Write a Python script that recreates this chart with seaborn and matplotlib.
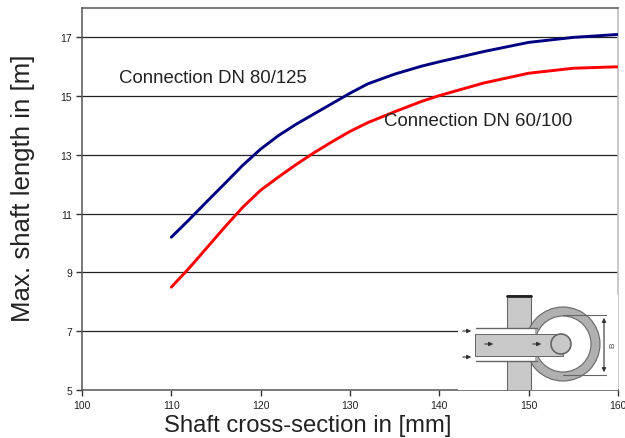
import matplotlib
matplotlib.use("Agg")
import matplotlib.pyplot as plt
import matplotlib.patches as mp
import pandas as pd
import seaborn as sns

sns.set_style("white")
plt.rcParams['font.family'] = ['Liberation Sans', 'DejaVu Sans']

x_blue = [110, 112, 114, 116, 118, 120, 122, 124, 126, 128, 130, 132, 135, 138, 140, 145, 150, 155, 160]
y_blue = [10.2, 10.8, 11.42, 12.03, 12.65, 13.2, 13.66, 14.05, 14.4, 14.75, 15.1, 15.42, 15.75, 16.02, 16.17, 16.52, 16.83, 17.0, 17.1]
x_red = [110, 112, 114, 116, 118, 120, 122, 124, 126, 128, 130, 132, 135, 138, 140, 145, 150, 155, 160]
y_red = [8.5, 9.15, 9.85, 10.55, 11.22, 11.8, 12.25, 12.68, 13.08, 13.45, 13.8, 14.1, 14.47, 14.82, 15.02, 15.45, 15.78, 15.95, 16.0]
xticks = [100, 110, 120, 130, 140, 150, 160]
yticks = [5, 7, 9, 11, 13, 15, 17]
label_blue = "Connection DN 80/125"
label_red = "Connection DN 60/100"

W, H = 625, 439
fig = plt.figure(figsize=(W/100, H/100), dpi=100)
L, R, T, B = 82, 618, 9, 391
ax = fig.add_axes([L/W, 1-B/H, (R-L)/W, (B-T)/H])

sns.lineplot(data=pd.DataFrame({"x": x_blue, "y": y_blue}), x="x", y="y", ax=ax,
             color="#000080", lw=2.1, zorder=3)
sns.lineplot(data=pd.DataFrame({"x": x_red, "y": y_red}), x="x", y="y", ax=ax,
             color="#ff0000", lw=2.1, zorder=3)

ax.set_xlim(100, 160)
ax.set_ylim(5, 18)
ax.set_xticks(xticks)
ax.set_yticks(yticks)
ax.tick_params(axis='both', length=4, width=1, color="#333333", labelsize=7.5, pad=3,
               bottom=True, left=True, labelcolor="#222222")
ax.grid(False)
for y in yticks[1:]:
    ax.axhline(y, color="#222222", lw=0.9, zorder=1)
for s in ax.spines.values():
    s.set_color("#555555")
    s.set_linewidth(1.1)
ax.spines['right'].set_color("#bbbbbb")

ax.set_xlabel("")
ax.set_ylabel("")
# axis titles sit at fixed positions, centred on the reference's pixel locations
fig.text(308/W, 1-426/H, "Shaft cross-section in [mm]", fontsize=17.2, color="#222222",
         ha="center", va="center")
fig.text(23/W, 1-188/H, "Max. shaft length in [m]", fontsize=18.6, color="#222222",
         ha="center", va="center", rotation=90)

ax.text(104.1, 15.65, label_blue, fontsize=13.4, color="#222222", va="center", ha="left", zorder=4)
ax.text(133.8, 14.18, label_red, fontsize=13.4, color="#222222", va="center", ha="left", zorder=4)

# inset drawing, in pixel-like coordinates
ins = fig.add_axes([458/W, 1-390.5/H, (617.5-458)/W, (390.5-296)/H], zorder=5)
ins.set_xlim(458, 617.5)
ins.set_ylim(390.5, 296)
ins.set_xticks([])
ins.set_yticks([])
ins.set_facecolor("white")
for s in ins.spines.values():
    s.set_visible(False)
g1, g2, d = "#c8c8c8", "#b0b0b0", "#666666"
ins.add_patch(mp.Rectangle((507, 296), 24, 97, fc=g1, ec=d, lw=0.8))
ins.plot([507, 531], [297, 297], color="#222222", lw=2)
ins.add_patch(mp.Circle((563, 345), 37, fc=g2, ec=d, lw=0.8))
ins.add_patch(mp.Circle((563, 345), 28, fc="white", ec=d, lw=0.8))
ins.add_patch(mp.Rectangle((475, 329), 60, 33, fc="white", ec="none"))
ins.add_patch(mp.Rectangle((475, 335), 88, 22, fc=g1, ec=d, lw=0.7))
ins.plot([476, 537], [329, 329], color=d, lw=1)
ins.plot([476, 537], [362, 362], color=d, lw=1)
ins.add_patch(mp.Circle((561, 345), 10, fc=g1, ec=d, lw=1.2))
ins.plot([563, 606], [316, 316], color=d, lw=0.8)
ins.plot([563, 606], [376, 376], color=d, lw=0.8)
ins.annotate("", xy=(604, 316), xytext=(604, 376),
             arrowprops=dict(arrowstyle="<|-|>", color="#333333", lw=0.8, mutation_scale=6))
for xa, ya in [(460, 332), (460, 358), (482, 345), (530, 345)]:
    ins.annotate("", xy=(xa+14, ya), xytext=(xa, ya),
                 arrowprops=dict(arrowstyle="-|>", color="#333333", lw=0.8, mutation_scale=6))
ins.text(613, 345, "B", fontsize=6, rotation=90, ha="center", va="center", color="#555555")

fig.savefig("out.png", dpi=100)
